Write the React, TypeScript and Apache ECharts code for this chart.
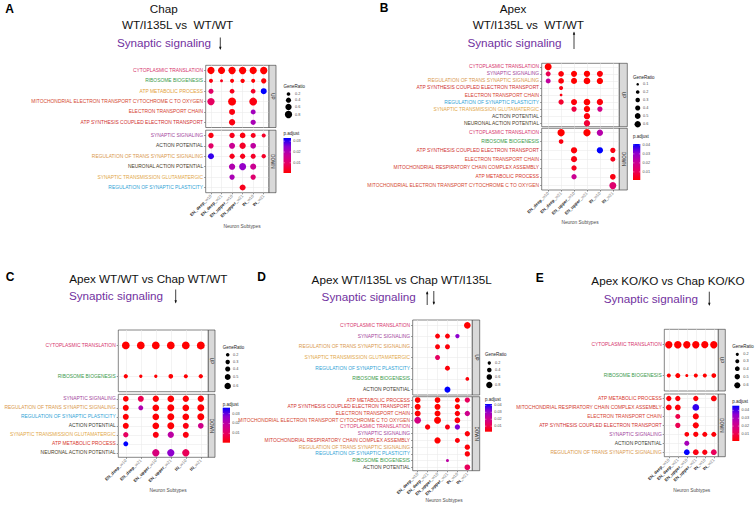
import React, { useEffect, useRef } from "react";
import * as echarts from "echarts";

const FONT = "'Liberation Sans', Arial, Helvetica, sans-serif";

const SUBTYPES = ["EN_deep_w10", "EN_deep_w21", "EN_upper_w10", "EN_upper_w21", "IN_w10", "IN_w21"];

// ---------- Panel A : Chap WT/I135L vs WT/WT ----------
const A_UP_TERMS = [
  "CYTOPLASMIC TRANSLATION",
  "RIBOSOME BIOGENESIS",
  "ATP METABOLIC PROCESS",
  "MITOCHONDRIAL ELECTRON TRANSPORT CYTOCHROME C TO OXYGEN",
  "ELECTRON TRANSPORT CHAIN",
  "ATP SYNTHESIS COUPLED ELECTRON TRANSPORT",
];
const A_UP_RATIO = [
  [0.78, 0.76, 0.8, 0.8, 0.78, 0.8],
  [0.24, 0.13, 0.24, 0.28, 0.24, 0.42],
  [0.37, null, 0.33, null, 0.33, 0.54],
  [0.8, null, 0.95, null, 0.92, null],
  [null, null, 0.54, null, 0.37, null],
  [null, null, 0.6, null, 0.42, null],
];
const A_UP_PADJ = [
  [0.0005, 0.0005, 0.0005, 0.0005, 0.0005, 0.0005],
  [0.002, 0.003, 0.001, 0.001, 0.001, 0.001],
  [0.01, null, 0.003, null, 0.004, 0.033],
  [0.009, null, 0.001, null, 0.002, null],
  [null, null, 0.002, null, 0.022, null],
  [null, null, 0.002, null, 0.021, null],
];
const A_DOWN_TERMS = [
  "SYNAPTIC SIGNALING",
  "ACTION POTENTIAL",
  "REGULATION OF TRANS SYNAPTIC SIGNALING",
  "NEURONAL ACTION POTENTIAL",
  "SYNAPTIC TRANSMISSION GLUTAMATERGIC",
  "REGULATION OF SYNAPTIC PLASTICITY",
];
const A_DOWN_RATIO = [
  [0.42, null, 0.42, 0.48, 0.37, 0.24],
  [0.42, null, 0.54, 0.6, 0.48, null],
  [0.54, null, 0.42, 0.42, 0.37, 0.28],
  [null, null, 0.6, 0.73, 0.54, null],
  [null, null, 0.42, null, 0.42, null],
  [null, null, null, 0.54, null, null],
];
const A_DOWN_PADJ = [
  [0.002, null, 0.003, 0.002, 0.003, 0.004],
  [0.01, null, 0.016, 0.004, 0.018, null],
  [0.03, null, 0.003, 0.003, 0.004, 0.004],
  [null, null, 0.02, 0.024, 0.016, null],
  [null, null, 0.021, null, 0.011, null],
  [null, null, null, 0.003, null, null],
];

// ---------- Panel B : Apex WT/I135L vs WT/WT ----------
const B_UP_TERMS = [
  "CYTOPLASMIC TRANSLATION",
  "SYNAPTIC SIGNALING",
  "REGULATION OF TRANS SYNAPTIC SIGNALING",
  "ATP SYNTHESIS COUPLED ELECTRON TRANSPORT",
  "ELECTRON TRANSPORT CHAIN",
  "REGULATION OF SYNAPTIC PLASTICITY",
  "SYNAPTIC TRANSMISSION GLUTAMATERGIC",
  "ACTION POTENTIAL",
  "NEURONAL ACTION POTENTIAL",
];
const B_UP_RATIO = [
  [0.72, null, null, null, null, null],
  [0.37, 0.48, 0.54, 0.6, 0.54, null],
  [0.37, 0.48, 0.54, 0.66, 0.6, null],
  [null, 0.24, null, null, null, null],
  [null, 0.11, null, null, null, null],
  [null, 0.42, 0.54, 0.66, 0.6, null],
  [null, null, 0.42, 0.6, 0.42, null],
  [null, null, null, 0.6, null, null],
  [null, null, null, 0.6, null, null],
];
const B_UP_PADJ = [
  [0.001, null, null, null, null, null],
  [0.01, 0.002, 0.001, 0.001, 0.002, null],
  [0.022, 0.002, 0.001, 0.001, 0.001, null],
  [null, 0.003, null, null, null, null],
  [null, 0.003, null, null, null, null],
  [null, 0.006, 0.002, 0.001, 0.002, null],
  [null, null, 0.008, 0.001, 0.018, null],
  [null, null, null, 0.002, null, null],
  [null, null, null, 0.007, null, null],
];
const B_DOWN_TERMS = [
  "CYTOPLASMIC TRANSLATION",
  "RIBOSOME BIOGENESIS",
  "ATP SYNTHESIS COUPLED ELECTRON TRANSPORT",
  "ELECTRON TRANSPORT CHAIN",
  "MITOCHONDRIAL RESPIRATORY CHAIN COMPLEX ASSEMBLY",
  "ATP METABOLIC PROCESS",
  "MITOCHONDRIAL ELECTRON TRANSPORT CYTOCHROME C TO OXYGEN",
];
const B_DOWN_RATIO = [
  [null, 0.79, null, 0.79, 0.6, null],
  [null, 0.33, null, null, null, null],
  [null, null, 0.6, null, 0.6, 0.42],
  [null, null, 0.54, null, null, 0.37],
  [null, null, 0.42, null, null, null],
  [null, null, 0.42, null, null, 0.48],
  [null, null, null, null, null, 0.73],
];
const B_DOWN_PADJ = [
  [null, 0.001, null, 0.001, 0.024, null],
  [null, 0.003, null, null, null, null],
  [null, null, 0.002, null, 0.041, 0.003],
  [null, null, 0.003, null, null, 0.004],
  [null, null, 0.004, null, null, null],
  [null, null, 0.02, null, null, 0.003],
  [null, null, null, null, null, 0.014],
];

// ---------- Panel C : Apex WT/WT vs Chap WT/WT ----------
const C_UP_TERMS = ["CYTOPLASMIC TRANSLATION", "RIBOSOME BIOGENESIS"];
const C_UP_RATIO = [
  [0.85, 0.85, 0.85, 0.85, 0.85, 0.88],
  [0.28, 0.18, 0.18, 0.33, 0.25, 0.28],
];
const C_UP_PADJ = [
  [0.0005, 0.0005, 0.0005, 0.0005, 0.0005, 0.0005],
  [0.001, 0.001, 0.001, 0.001, 0.001, 0.001],
];
const C_DOWN_TERMS = [
  "SYNAPTIC SIGNALING",
  "REGULATION OF TRANS SYNAPTIC SIGNALING",
  "REGULATION OF SYNAPTIC PLASTICITY",
  "ACTION POTENTIAL",
  "SYNAPTIC TRANSMISSION GLUTAMATERGIC",
  "ATP METABOLIC PROCESS",
  "NEURONAL ACTION POTENTIAL",
];
const C_DOWN_RATIO = [
  [0.47, 0.52, 0.57, 0.64, 0.57, 0.57],
  [0.52, 0.37, 0.64, 0.69, 0.64, 0.69],
  [0.52, null, 0.64, 0.69, 0.64, 0.69],
  [0.52, null, 0.64, 0.69, 0.52, 0.47],
  [0.42, null, 0.52, 0.57, 0.52, null],
  [0.37, null, null, null, null, null],
  [null, null, 0.75, 0.75, 0.75, null],
];
const C_DOWN_PADJ = [
  [0.001, 0.008, 0.001, 0.001, 0.001, 0.001],
  [0.001, 0.022, 0.001, 0.001, 0.001, 0.001],
  [0.001, null, 0.001, 0.001, 0.001, 0.001],
  [0.001, null, 0.001, 0.001, 0.002, 0.016],
  [0.01, null, 0.002, 0.02, 0.002, null],
  [0.036, null, null, null, null, null],
  [null, null, 0.014, 0.027, 0.009, null],
];

// ---------- Panel D : Apex WT/I135L vs Chap WT/I135L ----------
const D_UP_TERMS = [
  "CYTOPLASMIC TRANSLATION",
  "SYNAPTIC SIGNALING",
  "REGULATION OF TRANS SYNAPTIC SIGNALING",
  "SYNAPTIC TRANSMISSION GLUTAMATERGIC",
  "REGULATION OF SYNAPTIC PLASTICITY",
  "RIBOSOME BIOGENESIS",
  "ACTION POTENTIAL",
];
const D_UP_RATIO = [
  [null, null, null, null, null, 0.91],
  [null, null, 0.49, 0.49, 0.36, null],
  [null, null, 0.49, 0.49, null, null],
  [null, null, 0.49, null, null, null],
  [null, null, null, 0.49, null, null],
  [null, null, null, null, null, 0.26],
  [null, null, null, 0.72, null, null],
];
const D_UP_PADJ = [
  [null, null, null, null, null, 0.002],
  [null, null, 0.003, 0.003, 0.032, null],
  [null, null, 0.003, 0.003, null, null],
  [null, null, 0.013, null, null, null],
  [null, null, null, 0.003, null, null],
  [null, null, null, null, null, 0.003],
  [null, null, null, 0.042, null, null],
];
const D_DOWN_TERMS = [
  "ATP METABOLIC PROCESS",
  "ATP SYNTHESIS COUPLED ELECTRON TRANSPORT",
  "ELECTRON TRANSPORT CHAIN",
  "MITOCHONDRIAL ELECTRON TRANSPORT CYTOCHROME C TO OXYGEN",
  "CYTOPLASMIC TRANSLATION",
  "SYNAPTIC SIGNALING",
  "MITOCHONDRIAL RESPIRATORY CHAIN COMPLEX ASSEMBLY",
  "REGULATION OF TRANS SYNAPTIC SIGNALING",
  "REGULATION OF SYNAPTIC PLASTICITY",
  "RIBOSOME BIOGENESIS",
  "ACTION POTENTIAL",
];
const D_DOWN_RATIO = [
  [0.65, null, 0.65, null, 0.49, 0.56],
  [0.72, null, 0.72, null, 0.56, null],
  [0.72, null, 0.72, null, 0.56, 0.56],
  [0.91, null, 0.98, null, 0.65, null],
  [null, 0.56, null, 0.49, 0.56, null],
  [null, null, null, null, null, 0.56],
  [null, null, 0.8, null, 0.49, null],
  [null, null, null, null, null, 0.56],
  [null, null, null, null, null, 0.56],
  [null, null, null, 0.16, null, null],
  [null, null, null, null, null, 0.65],
];
const D_DOWN_PADJ = [
  [0.002, null, 0.002, null, 0.002, 0.012],
  [0.002, null, 0.002, null, 0.002, null],
  [0.002, null, 0.002, null, 0.003, 0.02],
  [0.018, null, 0.002, null, 0.003, null],
  [null, 0.003, null, 0.004, 0.033, null],
  [null, null, null, null, null, 0.003],
  [null, null, 0.002, null, 0.003, null],
  [null, null, null, null, null, 0.003],
  [null, null, null, null, null, 0.003],
  [null, null, null, 0.024, null, null],
  [null, null, null, null, null, 0.012],
];

// ---------- Panel E : Apex KO/KO vs Chap KO/KO ----------
const E_UP_TERMS = ["CYTOPLASMIC TRANSLATION", "RIBOSOME BIOGENESIS"];
const E_UP_RATIO = [
  [0.85, 0.88, 0.85, 0.85, 0.82, 0.85],
  [0.3, 0.43, 0.19, 0.3, 0.3, 0.39],
];
const E_UP_PADJ = [
  [0.001, 0.001, 0.001, 0.001, 0.001, 0.001],
  [0.001, 0.001, 0.001, 0.001, 0.001, 0.001],
];
const E_DOWN_TERMS = [
  "ATP METABOLIC PROCESS",
  "MITOCHONDRIAL RESPIRATORY CHAIN COMPLEX ASSEMBLY",
  "ELECTRON TRANSPORT CHAIN",
  "ATP SYNTHESIS COUPLED ELECTRON TRANSPORT",
  "SYNAPTIC SIGNALING",
  "ACTION POTENTIAL",
  "REGULATION OF TRANS SYNAPTIC SIGNALING",
];
const E_DOWN_RATIO = [
  [0.48, 0.48, null, 0.48, null, 0.55],
  [0.55, 0.55, null, 0.73, null, null],
  [null, 0.43, null, 0.6, null, null],
  [null, 0.48, null, 0.6, null, null],
  [null, null, 0.39, 0.48, 0.43, 0.43],
  [null, null, 0.43, null, null, null],
  [null, null, 0.55, 0.55, 0.48, 0.55],
];
const E_DOWN_PADJ = [
  [0.002, 0.002, null, 0.002, null, 0.002],
  [0.002, 0.002, null, 0.042, null, null],
  [null, 0.01, null, 0.002, null, null],
  [null, 0.011, null, 0.002, null, null],
  [null, null, 0.002, 0.002, 0.002, 0.002],
  [null, null, 0.03, null, null, null],
  [null, null, 0.046, 0.003, 0.003, 0.012],
];

// legend breaks
const A_SIZE_BREAKS = [0.2, 0.4, 0.6, 0.8];
const B_SIZE_BREAKS = [0.1, 0.2, 0.3, 0.4, 0.5, 0.6];
const C_SIZE_BREAKS = [0.2, 0.3, 0.4, 0.5, 0.6];
const D_SIZE_BREAKS = [0.2, 0.4, 0.6, 0.8];
const E_SIZE_BREAKS = [0.2, 0.3, 0.4, 0.5, 0.6];
const A_P_BREAKS = [0.01, 0.02, 0.03];
const B_P_BREAKS = [0.01, 0.02, 0.03, 0.04];
const C_P_BREAKS = [0.01, 0.02, 0.03];
const D_P_BREAKS = [0.01, 0.02, 0.03, 0.04];
const E_P_BREAKS = [0.01, 0.02, 0.03, 0.04];

const P_COLORS = ["#FF0000", "#E8005C", "#C70098", "#8E00CF", "#0000FF"];

const TERM_COLORS: Record<string, string> = {
  "CYTOPLASMIC TRANSLATION": "#D6336C",
  "RIBOSOME BIOGENESIS": "#3A9A4A",
  "ATP METABOLIC PROCESS": "#D7362B",
  "MITOCHONDRIAL ELECTRON TRANSPORT CYTOCHROME C TO OXYGEN": "#D4472F",
  "ELECTRON TRANSPORT CHAIN": "#D53E2F",
  "ATP SYNTHESIS COUPLED ELECTRON TRANSPORT": "#CF3030",
  "MITOCHONDRIAL RESPIRATORY CHAIN COMPLEX ASSEMBLY": "#D23A2E",
  "SYNAPTIC SIGNALING": "#A3449C",
  "ACTION POTENTIAL": "#3A3A30",
  "REGULATION OF TRANS SYNAPTIC SIGNALING": "#D9984C",
  "NEURONAL ACTION POTENTIAL": "#4A3B1E",
  "SYNAPTIC TRANSMISSION GLUTAMATERGIC": "#E2A748",
  "REGULATION OF SYNAPTIC PLASTICITY": "#2FA3D6",
};
const A_TERM_COLORS: Record<string, string> = { "ATP METABOLIC PROCESS": "#E3A13A" };

type Block = { terms: string[]; ratio: (number | null)[][]; padj: (number | null)[][] };

const PANELS: any[] = [
  {
    letter: "A", letterPos: [9.5, 9], termColors: A_TERM_COLORS,
    titles: [
      { text: "Chap", x: 163.8, y: 8.3 },
      { text: "WT/I135L vs  WT/WT", x: 177.5, y: 24.3 },
      { text: "Synaptic signaling", x: 164, y: 42.3, purple: true },
    ],
    arrows: [{ x: 220.3, y1: 37.5, y2: 50, dir: "down" }],
    up: { terms: A_UP_TERMS, ratio: A_UP_RATIO, padj: A_UP_PADJ },
    down: { terms: A_DOWN_TERMS, ratio: A_DOWN_RATIO, padj: A_DOWN_PADJ },
    g: { left: 205.7, width: 63.3, upTop: 65.3, upH: 62.2, downTop: 130.2, downH: 62.5, stripW: 7 },
    size: { a: 0, b: 8.2 }, sizeBreaks: A_SIZE_BREAKS, pBreaks: A_P_BREAKS,
    lg: { x: 283.5, titleY: 86, ys: [94, 100.2, 107, 114.5], cx: 288.5, lx: 295, pTitleY: 133.5, barY: 138, barW: 7.5, barH: 35 },
    xTitle: [242, 226],
  },
  {
    letter: "B", letterPos: [384, 8.3], termColors: {},
    titles: [
      { text: "Apex", x: 513, y: 8 },
      { text: "WT/I135L vs  WT/WT", x: 528.3, y: 24 },
      { text: "Synaptic signaling", x: 514.5, y: 42, purple: true },
    ],
    arrows: [{ x: 574, y1: 31.5, y2: 49, dir: "up" }],
    up: { terms: B_UP_TERMS, ratio: B_UP_RATIO, padj: B_UP_PADJ },
    down: { terms: B_DOWN_TERMS, ratio: B_DOWN_RATIO, padj: B_DOWN_PADJ },
    g: { left: 541.7, width: 77.6, upTop: 63.3, upH: 63.4, downTop: 128.3, downH: 61.7, stripW: 8 },
    size: { a: 0, b: 8.2 }, sizeBreaks: B_SIZE_BREAKS, pBreaks: B_P_BREAKS,
    lg: { x: 633, titleY: 77, ys: [84.3, 92, 100, 108, 116, 124.3], cx: 637.7, lx: 643, pTitleY: 136.7, barY: 144, barW: 7.3, barH: 36 },
    xTitle: [580, 222.7],
  },
  {
    letter: "C", letterPos: [10, 277], termColors: {},
    titles: [
      { text: "Apex WT/WT vs Chap WT/WT", x: 148.3, y: 278.3 },
      { text: "Synaptic signaling", x: 116, y: 295, purple: true },
    ],
    arrows: [{ x: 175.7, y1: 289.5, y2: 303.5, dir: "down" }],
    up: { terms: C_UP_TERMS, ratio: C_UP_RATIO, padj: C_UP_PADJ },
    down: { terms: C_DOWN_TERMS, ratio: C_DOWN_RATIO, padj: C_DOWN_PADJ },
    g: { left: 118.3, width: 90, upTop: 330, upH: 61.7, downTop: 394.3, downH: 63, stripW: 6.7 },
    size: { a: -0.5, b: 9 }, sizeBreaks: C_SIZE_BREAKS, pBreaks: C_P_BREAKS,
    lg: { x: 222.7, titleY: 347.3, ys: [354.7, 362, 369, 377, 386], cx: 227.7, lx: 233, pTitleY: 404, barY: 407.7, barW: 7.3, barH: 35 },
    xTitle: [168, 490],
  },
  {
    letter: "D", letterPos: [261.7, 277], termColors: {},
    titles: [
      { text: "Apex WT/I135L vs Chap WT/I135L", x: 401.7, y: 279 },
      { text: "Synaptic signaling", x: 368.7, y: 296, purple: true },
    ],
    arrows: [
      { x: 427.2, y1: 291, y2: 305, dir: "up" },
      { x: 433.8, y1: 291, y2: 305, dir: "down" },
    ],
    up: { terms: D_UP_TERMS, ratio: D_UP_RATIO, padj: D_UP_PADJ },
    down: { terms: D_DOWN_TERMS, ratio: D_DOWN_RATIO, padj: D_DOWN_PADJ },
    g: { left: 412.7, width: 59.6, upTop: 320, upH: 75, downTop: 396.7, downH: 74, stripW: 7.4 },
    size: { a: 0.3, b: 6.7 }, sizeBreaks: D_SIZE_BREAKS, pBreaks: D_P_BREAKS,
    lg: { x: 485, titleY: 354.3, ys: [363, 370, 377, 385], cx: 489.3, lx: 495, pTitleY: 399.3, barY: 404, barW: 7, barH: 27.7 },
    xTitle: [444, 500],
  },
  {
    letter: "E", letterPos: [539.7, 277.5], termColors: {},
    titles: [
      { text: "Apex KO/KO vs Chap KO/KO", x: 668, y: 280.7 },
      { text: "Synaptic signaling", x: 650.8, y: 298.3, purple: true },
    ],
    arrows: [{ x: 709.3, y1: 291.7, y2: 306, dir: "down" }],
    up: { terms: E_UP_TERMS, ratio: E_UP_RATIO, padj: E_UP_PADJ },
    down: { terms: E_DOWN_TERMS, ratio: E_DOWN_RATIO, padj: E_DOWN_PADJ },
    g: { left: 664.3, width: 54, upTop: 329.3, upH: 61.7, downTop: 394, downH: 62.7, stripW: 7 },
    size: { a: -0.8, b: 8.8 }, sizeBreaks: E_SIZE_BREAKS, pBreaks: E_P_BREAKS,
    lg: { x: 732.3, titleY: 346, ys: [354.3, 361.3, 368.7, 376.7, 385.3], cx: 737.3, lx: 743.3, pTitleY: 401.7, barY: 405.7, barW: 7, barH: 35.3 },
    xTitle: [691.7, 490],
  },
];

function sizeOf(s: { a: number; b: number }, r: number) {
  return Math.max(1.2, s.a + s.b * Math.sqrt(r));
}

function txt(x: number, y: number, text: string, o: any = {}) {
  const align = o.align || "left";
  const va = o.va || "middle";
  return {
    type: "text",
    x,
    y,
    rotation: o.rotation || 0,
    silent: true,
    z: 100,
    style: {
      text,
      fontSize: o.size || 5,
      fontFamily: FONT,
      fontWeight: o.weight || "normal",
      fill: o.color || "#000",
      align,
      verticalAlign: va,
      textAlign: align,
      textVerticalAlign: va,
    },
  };
}

function buildOption() {
  const grids: any[] = [];
  const xAxes: any[] = [];
  const yAxes: any[] = [];
  const series: any[] = [];
  const visualMaps: any[] = [];
  const graphics: any[] = [];

  PANELS.forEach((p, pi) => {
    const allP: number[] = [];
    (["up", "down"] as const).forEach((part, k) => {
      const blk: Block = p[part];
      const gi = grids.length;
      const top = k === 0 ? p.g.upTop : p.g.downTop;
      const h = k === 0 ? p.g.upH : p.g.downH;
      grids.push({
        left: p.g.left, top, width: p.g.width, height: h,
        show: true, borderColor: "#333", borderWidth: 0.6, backgroundColor: "#fff",
      });
      const split = { show: true, interval: 0, alignWithLabel: true, lineStyle: { color: "#EBEBEB", width: 0.6 } };
      xAxes.push({
        type: "category", gridIndex: gi, data: SUBTYPES,
        axisLine: { show: false },
        axisTick: { show: k === 1, length: 1.6, alignWithLabel: true, interval: 0, lineStyle: { color: "#333", width: 0.5 } },
        axisLabel: {
          show: k === 1, interval: 0, rotate: 45, margin: 2.5,
          formatter: (v: string) => {
            const i = v.lastIndexOf("_");
            return "{a|" + v.slice(0, i + 1) + "}{b|" + v.slice(i + 1) + "}";
          },
          rich: {
            a: { fontSize: 4.3, fontFamily: FONT, fontWeight: "bold", color: "#1A1A1A" },
            b: { fontSize: 4.3, fontFamily: FONT, color: "#7A7A7A" },
          },
        },
        splitLine: split,
      });
      yAxes.push({
        type: "category", gridIndex: gi, data: blk.terms, inverse: true,
        axisLine: { show: false },
        axisTick: { show: true, length: 1.6, alignWithLabel: true, interval: 0, lineStyle: { color: "#333", width: 0.5 } },
        axisLabel: {
          interval: 0, fontSize: 4.9, fontFamily: FONT, margin: 2.6,
          color: (v: string) => p.termColors[v] || TERM_COLORS[v] || "#333",
        },
        splitLine: split,
      });
      const data: any[] = [];
      blk.ratio.forEach((row, ri) =>
        row.forEach((r, ci) => {
          const pv = blk.padj[ri][ci];
          if (r != null && pv != null) {
            data.push([ci, ri, r, pv]);
            allP.push(pv);
          }
        })
      );
      series.push({
        type: "scatter", xAxisIndex: gi, yAxisIndex: gi, data,
        symbolSize: (v: number[]) => sizeOf(p.size, v[2]),
        itemStyle: { opacity: 1 },
        emphasis: { disabled: true },
        silent: true,
      });
      // facet strip
      const sx = p.g.left + p.g.width;
      graphics.push({
        type: "rect", silent: true, z: 50,
        shape: { x: sx, y: top, width: p.g.stripW, height: h },
        style: { fill: "#D9D9D9", stroke: "#333", lineWidth: 0.6 },
      });
      graphics.push(txt(sx + p.g.stripW / 2, top + h / 2, k === 0 ? "UP" : "DOWN", { size: 4.5, color: "#1A1A1A", align: "center", rotation: -Math.PI / 2 }));
    });

    const pmin = Math.min(...allP);
    const pmax = Math.max(...allP);
    visualMaps.push({
      type: "continuous", show: false, seriesIndex: [2 * pi, 2 * pi + 1], dimension: 3,
      min: pmin, max: pmax, inRange: { color: P_COLORS },
    });

    // titles
    graphics.push(txt(p.letterPos[0], p.letterPos[1], p.letter, { size: 12, weight: "bold", align: "center" }));
    p.titles.forEach((t: any) =>
      graphics.push(txt(t.x, t.y, t.text, { size: 11.7, align: "center", color: t.purple ? "#7232A0" : "#111" }))
    );
    p.arrows.forEach((a: any) => {
      const hy = a.dir === "down" ? a.y2 : a.y1;
      const s = a.dir === "down" ? -1 : 1;
      graphics.push({
        type: "line", silent: true, z: 100,
        shape: { x1: a.x, y1: a.y1 + (a.dir === "up" ? 1 : 0), x2: a.x, y2: a.y2 - (a.dir === "down" ? 1 : 0) },
        style: { stroke: "#111", lineWidth: 0.8 },
      });
      graphics.push({
        type: "polygon", silent: true, z: 100,
        shape: { points: [[a.x - 1.2, hy + s * 3.2], [a.x + 1.2, hy + s * 3.2], [a.x, hy]] },
        style: { fill: "#111" },
      });
    });
    graphics.push(txt(p.xTitle[0], p.xTitle[1], "Neuron Subtypes", { size: 4.8, color: "#4D4D4D", align: "center" }));

    // size legend
    const lg = p.lg;
    graphics.push(txt(lg.x, lg.titleY, "GeneRatio", { size: 4.5, color: "#1A1A1A" }));
    p.sizeBreaks.forEach((b: number, i: number) => {
      graphics.push({
        type: "circle", silent: true, z: 100,
        shape: { cx: lg.cx, cy: lg.ys[i], r: sizeOf(p.size, b) / 2 },
        style: { fill: "#000" },
      });
      graphics.push(txt(lg.lx, lg.ys[i], String(b), { size: 3.8, color: "#4D4D4D" }));
    });

    // colour bar
    graphics.push(txt(lg.x, lg.pTitleY, "p.adjust", { size: 4.5, color: "#1A1A1A" }));
    const stops = P_COLORS.map((c, i) => ({ offset: 1 - i / (P_COLORS.length - 1), color: c }));
    graphics.push({
      type: "rect", silent: true, z: 100,
      shape: { x: lg.x, y: lg.barY, width: lg.barW, height: lg.barH },
      style: { fill: { type: "linear", x: 0, y: 0, x2: 0, y2: 1, colorStops: stops.reverse() } },
    });
    p.pBreaks.forEach((b: number) => {
      const yy = lg.barY + lg.barH - ((b - pmin) / (pmax - pmin)) * lg.barH;
      if (yy < lg.barY - 0.5 || yy > lg.barY + lg.barH + 0.5) return;
      graphics.push({
        type: "line", silent: true, z: 101,
        shape: { x1: lg.x, y1: yy, x2: lg.x + 1.4, y2: yy },
        style: { stroke: "#fff", lineWidth: 0.4 },
      });
      graphics.push({
        type: "line", silent: true, z: 101,
        shape: { x1: lg.x + lg.barW - 1.4, y1: yy, x2: lg.x + lg.barW, y2: yy },
        style: { stroke: "#fff", lineWidth: 0.4 },
      });
      graphics.push(txt(lg.x + lg.barW + 2.3, yy, b.toFixed(2), { size: 3.8, color: "#4D4D4D" }));
    });
  });

  return {
    animation: false,
    backgroundColor: "#fff",
    textStyle: { fontFamily: FONT },
    grid: grids,
    xAxis: xAxes,
    yAxis: yAxes,
    visualMap: visualMaps,
    series,
    graphic: { elements: graphics },
  };
}

export default function App() {
  const ref = useRef<HTMLDivElement>(null);
  useEffect(() => {
    const chart = echarts.init(ref.current as HTMLDivElement, null, { renderer: "svg" });
    chart.setOption(buildOption() as any);
    return () => chart.dispose();
  }, []);
  return (
    <div
      ref={ref}
      style={{ position: "absolute", left: 0, top: 0, width: 755, height: 505, background: "#fff" }}
    />
  );
}
